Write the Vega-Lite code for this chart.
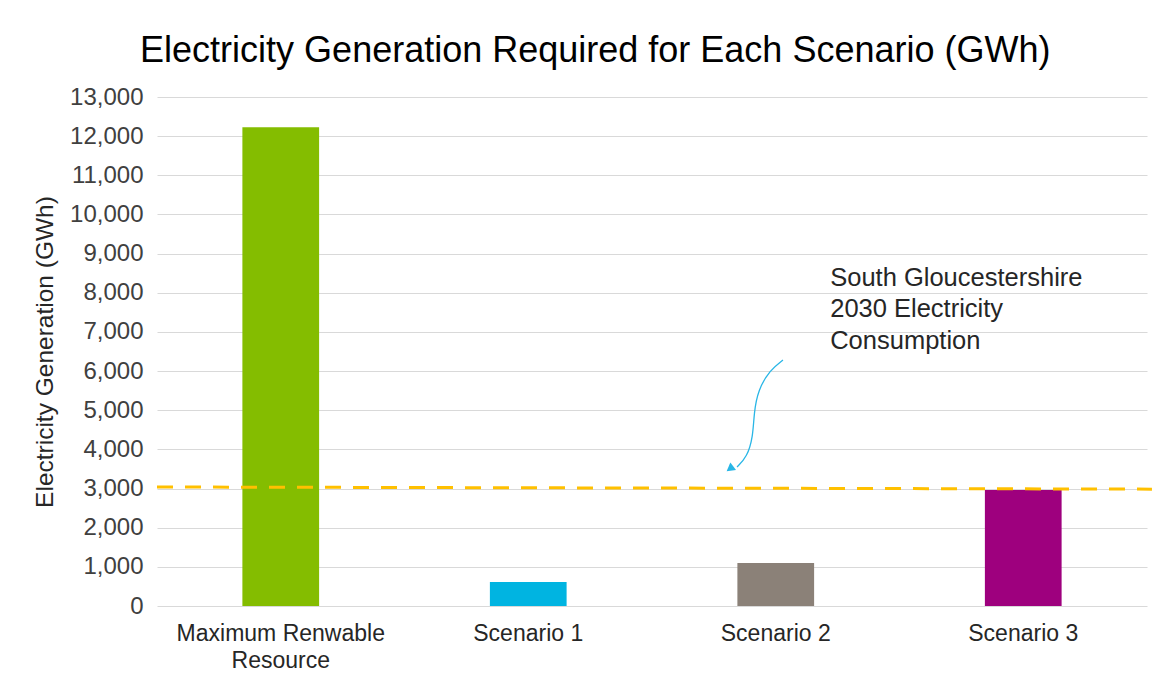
{
  "$schema": "https://vega.github.io/schema/vega-lite/v6.json",
  "width": 990,
  "height": 509,
  "autosize": {"type": "none"},
  "padding": {"left": 157, "top": 97, "right": 25, "bottom": 82},
  "background": "white",
  "title": {
    "text": "Electricity Generation Required for Each Scenario (GWh)",
    "fontSize": 36,
    "fontWeight": "normal",
    "font": "Liberation Sans",
    "color": "#000000",
    "anchor": "middle",
    "frame": "bounds",
    "offset": 15
  },
  "datasets": {
    "bars": [
      {"category": "Maximum Renwable Resource", "value": 12230},
      {"category": "Scenario 1", "value": 613},
      {"category": "Scenario 2", "value": 1098},
      {"category": "Scenario 3", "value": 2963}
    ],
    "consumption": [
      {"pos": 0, "value": 3040},
      {"pos": 1.005, "value": 2985}
    ],
    "arrow": [
      {"order": 1, "pos": 0.6323, "value": 6283},
      {"order": 2, "pos": 0.6192, "value": 6028},
      {"order": 3, "pos": 0.6071, "value": 5517},
      {"order": 4, "pos": 0.6030, "value": 4930},
      {"order": 5, "pos": 0.6020, "value": 4317},
      {"order": 6, "pos": 0.5960, "value": 3806},
      {"order": 7, "pos": 0.5859, "value": 3550}
    ],
    "arrowhead": [
      {"pos": 0.5798, "value": 3525}
    ],
    "note": [
      {"pos": 0.68, "value": 8380, "label": "South Gloucestershire\n2030 Electricity\nConsumption"}
    ]
  },
  "layer": [
    {
      "data": {"name": "bars"},
      "mark": {"type": "bar"},
      "encoding": {
        "x": {
          "field": "category",
          "type": "nominal",
          "sort": null,
          "scale": {"paddingInner": 0.69, "paddingOuter": 0.345},
          "axis": {
            "title": null,
            "labelAngle": 0,
            "labelFontSize": 23,
            "labelFont": "Liberation Sans",
            "labelColor": "#262626",
            "labelPadding": 16,
            "labelLimit": 400,
            "labelExpr": "datum.value == 'Maximum Renwable Resource' ? ['Maximum Renwable', 'Resource'] : datum.value",
            "labelLineHeight": 27,
            "ticks": false,
            "domain": false
          }
        },
        "y": {
          "field": "value",
          "type": "quantitative",
          "scale": {"domain": [0, 13000]},
          "axis": {
            "title": "Electricity Generation (GWh)",
            "values": [0, 1000, 2000, 3000, 4000, 5000, 6000, 7000, 8000, 9000, 10000, 11000, 12000, 13000],
            "labelExpr": "format(datum.value, ',')"
          }
        },
        "color": {
          "field": "category",
          "type": "nominal",
          "scale": {
            "domain": ["Maximum Renwable Resource", "Scenario 1", "Scenario 2", "Scenario 3"],
            "range": ["#84BD00", "#00B4E1", "#8B8178", "#9E007E"]
          },
          "legend": null
        }
      }
    },
    {
      "data": {"name": "consumption"},
      "mark": {"type": "line", "color": "#FFC000", "strokeWidth": 3, "strokeDash": [16, 12], "clip": false},
      "encoding": {
        "x": {"field": "pos", "type": "quantitative", "scale": {"domain": [0, 1]}, "axis": null},
        "y": {
          "field": "value",
          "type": "quantitative",
          "scale": {"domain": [0, 13000]},
          "axis": {
            "title": "Electricity Generation (GWh)",
            "values": [0, 1000, 2000, 3000, 4000, 5000, 6000, 7000, 8000, 9000, 10000, 11000, 12000, 13000],
            "labelExpr": "format(datum.value, ',')"
          }
        }
      }
    },
    {
      "data": {"name": "arrow"},
      "mark": {"type": "line", "color": "#29B6E6", "strokeWidth": 1.3, "interpolate": "basis"},
      "encoding": {
        "x": {"field": "pos", "type": "quantitative", "scale": {"domain": [0, 1]}, "axis": null},
        "y": {
          "field": "value",
          "type": "quantitative",
          "scale": {"domain": [0, 13000]},
          "axis": {
            "title": "Electricity Generation (GWh)",
            "values": [0, 1000, 2000, 3000, 4000, 5000, 6000, 7000, 8000, 9000, 10000, 11000, 12000, 13000],
            "labelExpr": "format(datum.value, ',')"
          }
        },
        "order": {"field": "order"}
      }
    },
    {
      "data": {"name": "arrowhead"},
      "mark": {"type": "point", "shape": "triangle", "filled": true, "color": "#29B6E6", "opacity": 1, "size": 90, "angle": 233},
      "encoding": {
        "x": {"field": "pos", "type": "quantitative", "scale": {"domain": [0, 1]}, "axis": null},
        "y": {
          "field": "value",
          "type": "quantitative",
          "scale": {"domain": [0, 13000]},
          "axis": {
            "title": "Electricity Generation (GWh)",
            "values": [0, 1000, 2000, 3000, 4000, 5000, 6000, 7000, 8000, 9000, 10000, 11000, 12000, 13000],
            "labelExpr": "format(datum.value, ',')"
          }
        }
      }
    },
    {
      "data": {"name": "note"},
      "mark": {"type": "text", "align": "left", "baseline": "middle", "fontSize": 25.5, "font": "Liberation Sans", "color": "#262626", "lineBreak": "\n", "lineHeight": 31.5},
      "encoding": {
        "x": {"field": "pos", "type": "quantitative", "scale": {"domain": [0, 1]}, "axis": null},
        "y": {
          "field": "value",
          "type": "quantitative",
          "scale": {"domain": [0, 13000]},
          "axis": {
            "title": "Electricity Generation (GWh)",
            "values": [0, 1000, 2000, 3000, 4000, 5000, 6000, 7000, 8000, 9000, 10000, 11000, 12000, 13000],
            "labelExpr": "format(datum.value, ',')"
          }
        },
        "text": {"field": "label"}
      }
    }
  ],
  "resolve": {"scale": {"x": "independent"}, "axis": {"x": "independent"}},
  "config": {
    "view": {"stroke": null},
    "axisY": {
      "titleFontSize": 24.5,
      "titleFontWeight": "normal",
      "titleFont": "Liberation Sans",
      "titleColor": "#262626",
      "titlePadding": 12,
      "labelFontSize": 24,
      "labelFont": "Liberation Sans",
      "labelColor": "#404040",
      "labelPadding": 14,
      "ticks": false,
      "domain": false,
      "gridColor": "#d9d9d9",
      "gridWidth": 1
    }
  }
}
